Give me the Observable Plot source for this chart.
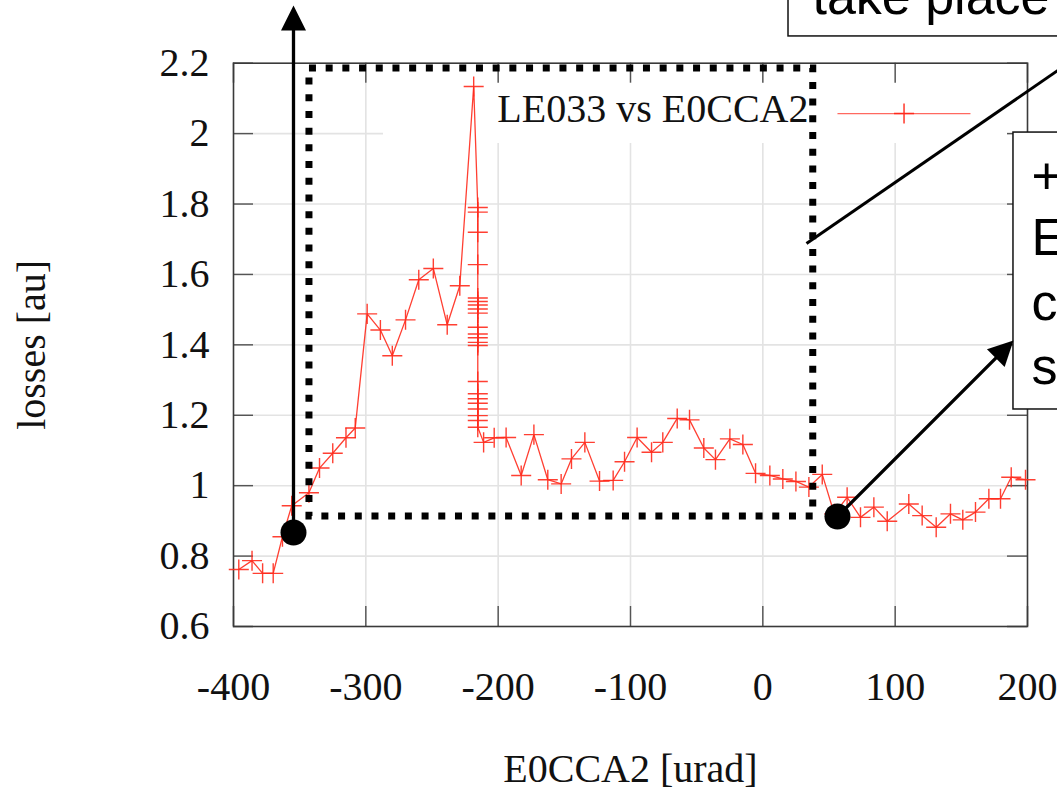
<!DOCTYPE html>
<html><head><meta charset="utf-8">
<script src="https://cdn.jsdelivr.net/npm/d3@7"></script>
<script src="https://cdn.jsdelivr.net/npm/@observablehq/plot@0.6"></script>
<style>html,body{margin:0;padding:0;background:#fff;overflow:hidden}</style>
</head><body><div id="chart"></div>
<script>
// ---- data ----
const e0cca2 = [-396, -386, -378, -370, -363, -356, -343, -335, -325, -315, -308,
  -299, -289, -280, -270, -260, -249, -238.5, -229, -218.5,
  -215.4, -215.4, -215.4, -215.4, -215.4, -215.4, -215.4, -215.4, -215.4, -215.4, -215.4,
  -215.4, -215.4, -215.4, -215.4, -215.4, -215.4, -215.4, -215.4, -215.4, -215.4, -215.4,
  -211, -203, -194, -182.6, -173, -162.5, -152.4, -144.6, -134.5, -123.4, -113.1, -104.5,
  -95, -84.1, -75.6, -64.7, -55.4, -44.6, -35.8, -24.9, -15.1, -5.5, 5.3, 15.1, 25, 34.8,
  44.9, 54, 63.7, 73.8, 83.9, 94, 110.3, 120.4, 131, 141.8, 151.1, 160.7, 170.8, 179.6,
  187.7, 198.5];
const losses = [0.762, 0.787, 0.751, 0.751, 0.855, 0.943, 0.98, 1.05, 1.092, 1.136, 1.164,
  1.488, 1.442, 1.369, 1.471, 1.585, 1.617, 1.457, 1.568, 2.134,
  1.79, 1.777, 1.72, 1.628, 1.533, 1.523, 1.513, 1.502, 1.49, 1.45, 1.431,
  1.42, 1.407, 1.398, 1.296, 1.261, 1.247, 1.234, 1.218, 1.199, 1.185, 1.166,
  1.123, 1.136, 1.137, 1.029, 1.145, 1.017, 1.005, 1.076, 1.123, 1.013, 1.015, 1.068,
  1.137, 1.095, 1.123, 1.191, 1.187, 1.107, 1.074, 1.133, 1.117, 1.035, 1.029, 1.019, 1.012, 0.996,
  1.032, 0.92, 0.967, 0.91, 0.939, 0.899, 0.948, 0.915, 0.882, 0.92, 0.903, 0.925, 0.963, 0.963,
  1.024, 1.017];
const xTicks = [-400, -300, -200, -100, 0, 100, 200];
const yTicks = [0.6, 0.8, 1, 1.2, 1.4, 1.6, 1.8, 2, 2.2];
const seriesLabel = "LE033 vs E0CCA2";
const xLabel = "E0CCA2 [urad]";
const yLabel = "losses [au]";

// ---- annotation overlay (in data units) ----
const legendBreakX = -286.65;   // grid hidden right of this x ...
const legendBreakY = 1.972;     // ... and above this y
const legendText = [{x: 34.5, y: 2.034, text: seriesLabel}];
const legendSample = [{x1: 56.4, x2: 156.9, y: 2.057, xm: 106.7}];
const dottedBox = [{x1: -342.6, x2: 38.1, y1: 0.9124, y2: 2.185}];
const calloutBoxes = [
  {x1: 19.4, x2: 240, y1: 2.276, y2: 2.435},
  {x1: 189.4, x2: 240, y1: 1.2164, y2: 2.003}
];
const calloutTexts = [
  {x: 37.5, y: 2.341, text: "take place"},
  {x: 203.0, y: 1.828, text: "+"},
  {x: 203.0, y: 1.654, text: "E"},
  {x: 203.0, y: 1.472, text: "c"},
  {x: 203.0, y: 1.290, text: "s"}
];
const pointerLines = [{x1: 33.0, y1: 1.688, x2: 255.2, y2: 2.263}];
const arrows = [
  {x1: -354.66, y1: 0.867, x2: -354.66, y2: 2.364, rotate: 0},
  {x1: 56.4, y1: 0.9124, x2: 189.4, y2: 1.4124, rotate: 45}
];
const anchorDots = [{x: -354.66, y: 0.867}, {x: 56.4, y: 0.9124}];

const rows = e0cca2.map((x, i) => ({x, y: losses[i]}));
const red = "#ff2a1c";
const plotW = 1057 - 233 - 30, plotH = 792 - 62.7 - 166;
const gridColor = "#e3e3e3", tickColor = "#555";

const marks = [
  // grid
  Plot.ruleX(xTicks.filter(t => t > -400 && t < 200 && t <= legendBreakX), {x: d => d, stroke: gridColor, strokeWidth: 1.6, insetTop: 20, insetBottom: 20}),
  Plot.ruleX(xTicks.filter(t => t > -400 && t < 200 && t > legendBreakX), {x: d => d, stroke: gridColor, strokeWidth: 1.6, insetTop: 80.3, insetBottom: 20}),
  Plot.ruleY(yTicks.filter(t => t > 0.6 && t < 2.2 && t < legendBreakY), {y: d => d, stroke: gridColor, strokeWidth: 1.6, insetLeft: 20, insetRight: 20}),
  Plot.ruleY(yTicks.filter(t => t > 0.6 && t < 2.2 && t >= legendBreakY), {y: d => d, x1: -400, x2: legendBreakX, stroke: gridColor, strokeWidth: 1.6, insetLeft: 20}),
  // inward ticks on all sides
  Plot.ruleX(xTicks, {x: d => d, stroke: tickColor, strokeWidth: 1.5, insetTop: plotH - 20}),
  Plot.ruleX(xTicks, {x: d => d, stroke: tickColor, strokeWidth: 1.5, insetBottom: plotH - 20}),
  Plot.ruleY(yTicks, {y: d => d, stroke: tickColor, strokeWidth: 1.5, insetRight: plotW - 20}),
  Plot.ruleY(yTicks, {y: d => d, stroke: tickColor, strokeWidth: 1.5, insetLeft: plotW - 20}),
  Plot.frame({stroke: "#3a3a3a", strokeWidth: 1.6}),
  Plot.axisX(xTicks, {tickSize: 0, tickPadding: 45, tickFormat: d => String(d), label: null, fontSize: 40}),
  Plot.axisY(yTicks, {tickSize: 0, tickPadding: 24, tickFormat: d => String(d), label: null, fontSize: 40}),
  Plot.text([xLabel], {frameAnchor: "bottom", dy: 143, lineAnchor: "middle", fontSize: 40}),
  Plot.text([yLabel], {frameAnchor: "left", dx: -201, rotate: -90, lineAnchor: "middle", textAnchor: "middle", fontSize: 40}),
  // series
  Plot.line(rows, {x: "x", y: "y", stroke: red, strokeWidth: 1.3, strokeOpacity: 0.9}),
  Plot.dot(rows, {x: "x", y: "y", symbol: "plus", r: 6.5, stroke: red, strokeWidth: 1.4, strokeOpacity: 0.9}),
  // legend
  Plot.text(legendText, {x: "x", y: "y", text: "text", textAnchor: "end", lineAnchor: "bottom", fontSize: 40, fill: "#111"}),
  Plot.link(legendSample, {x1: "x1", x2: "x2", y1: "y", y2: "y", stroke: red, strokeWidth: 1.3, strokeOpacity: 0.7}),
  Plot.dot(legendSample, {x: "xm", y: "y", symbol: "plus", r: 6.5, stroke: red, strokeWidth: 1.4}),
  // overlay annotations
  Plot.rect(dottedBox, {x1: "x1", x2: "x2", y1: "y1", y2: "y2", fill: "none", stroke: "black", strokeWidth: 7, strokeDasharray: "7 9.7"}),
  Plot.link(pointerLines, {x1: "x1", y1: "y1", x2: "x2", y2: "y2", stroke: "black", strokeWidth: 3}),
  Plot.rect(calloutBoxes, {x1: "x1", x2: "x2", y1: "y1", y2: "y2", fill: "white", stroke: "#111", strokeWidth: 1.5}),
  Plot.text(calloutTexts, {x: "x", y: "y", text: "text", textAnchor: "start", lineAnchor: "bottom", fontSize: 52, fontFamily: "'Liberation Sans', Arial, sans-serif", fill: "black"}),
  Plot.arrow(arrows, {x1: "x1", y1: "y1", x2: "x2", y2: "y2", stroke: "black", strokeWidth: 3.3, headLength: 0, insetEnd: 14}),
  Plot.vector(arrows, {x: "x2", y: "y2", rotate: "rotate", length: 25, anchor: "end", shape: "spike", r: 12.5, fill: "black", stroke: "none"}),
  Plot.dot(anchorDots, {x: "x", y: "y", r: 13, fill: "black", stroke: "none"})
];

const chart = Plot.plot({
  width: 1057, height: 792,
  marginLeft: 233, marginRight: 30, marginTop: 62.7, marginBottom: 166,
  x: {domain: [-400, 200], axis: null},
  y: {domain: [0.6, 2.2], axis: null},
  style: {fontFamily: "'Liberation Serif', 'Times New Roman', serif", fontSize: "40px", background: "white", color: "#111"},
  marks
});
document.getElementById("chart").appendChild(chart);
</script>
</body></html>
